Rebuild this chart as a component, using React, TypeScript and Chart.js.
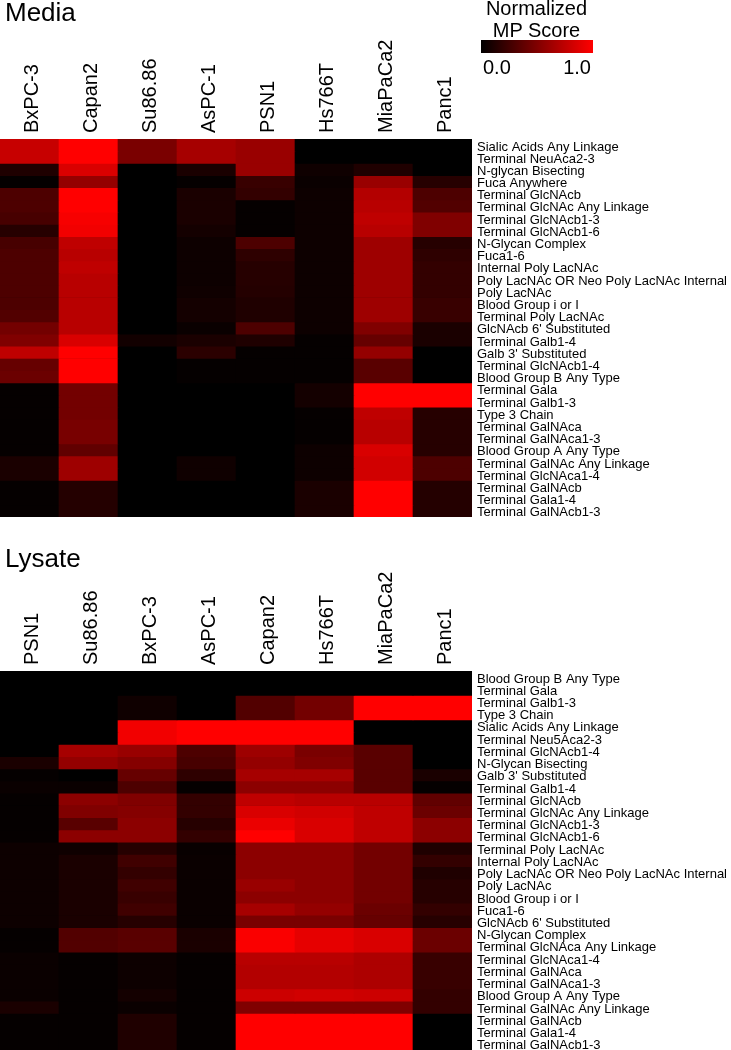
import React, { useEffect, useRef } from 'react';
import Chart from 'chart.js/auto';

const FONT = '"Liberation Sans", Arial, Helvetica, sans-serif';

// ---------- Media panel ----------
const mediaColumns = ['BxPC-3', 'Capan2', 'Su86.86', 'AsPC-1', 'PSN1', 'Hs766T', 'MiaPaCa2', 'Panc1'];
const mediaRows = [
  'Sialic Acids Any Linkage', 'Terminal NeuAca2-3', 'N-glycan Bisecting', 'Fuca Anywhere',
  'Terminal GlcNAcb', 'Terminal GlcNAc Any Linkage', 'Terminal GlcNAcb1-3', 'Terminal GlcNAcb1-6',
  'N-Glycan Complex', 'Fuca1-6', 'Internal Poly LacNAc', 'Poly LacNAc OR Neo Poly LacNAc Internal',
  'Poly LacNAc', 'Blood Group i or I', 'Terminal Poly LacNAc', "GlcNAcb 6' Substituted",
  'Terminal Galb1-4', "Galb 3' Substituted", 'Terminal GlcNAcb1-4', 'Blood Group B Any Type',
  'Terminal Gala', 'Terminal Galb1-3', 'Type 3 Chain', 'Terminal GalNAca', 'Terminal GalNAca1-3',
  'Blood Group A Any Type', 'Terminal GalNAc Any Linkage', 'Terminal GlcNAca1-4', 'Terminal GalNAcb',
  'Terminal Gala1-4', 'Terminal GalNAcb1-3',
];
const mediaBxPC3 = [0.78, 0.78, 0.12, 0.02, 0.3, 0.3, 0.28, 0.15, 0.28, 0.3, 0.3, 0.3, 0.3, 0.3, 0.32, 0.45, 0.5, 0.75, 0.4, 0.42, 0.02, 0.02, 0.02, 0.02, 0.02, 0.02, 0.1, 0.1, 0.02, 0.02, 0.02];
const mediaCapan2 = [1, 1, 0.85, 0.58, 1, 1, 0.97, 0.95, 0.75, 0.72, 0.75, 0.72, 0.72, 0.72, 0.72, 0.72, 0.85, 1, 1, 1, 0.45, 0.45, 0.45, 0.47, 0.47, 0.38, 0.62, 0.62, 0.14, 0.14, 0.14];
const mediaSu8686 = [0.48, 0.48, 0, 0, 0, 0, 0, 0, 0, 0, 0, 0, 0, 0, 0, 0, 0.07, 0, 0, 0, 0, 0, 0, 0, 0, 0, 0, 0, 0, 0, 0];
const mediaAsPC1 = [0.65, 0.65, 0.1, 0.02, 0.1, 0.1, 0.1, 0.08, 0.05, 0.05, 0.05, 0.05, 0.06, 0.08, 0.08, 0.04, 0.1, 0.17, 0.02, 0.02, 0, 0, 0, 0, 0, 0, 0.06, 0.06, 0, 0, 0];
const mediaPSN1 = [0.6, 0.6, 0.6, 0.22, 0.2, 0.02, 0.02, 0.02, 0.3, 0.18, 0.15, 0.15, 0.14, 0.12, 0.12, 0.3, 0.12, 0.02, 0.02, 0.02, 0, 0, 0, 0, 0, 0, 0, 0, 0, 0, 0];
const mediaHs766T = [0, 0, 0.06, 0.04, 0.05, 0.05, 0.05, 0.05, 0.05, 0.05, 0.05, 0.05, 0.05, 0.05, 0.05, 0.05, 0.02, 0.02, 0.02, 0.02, 0.08, 0.08, 0.02, 0.02, 0.02, 0.05, 0.05, 0.05, 0.1, 0.1, 0.1];
const mediaMiaPaCa2 = [0, 0, 0.12, 0.6, 0.7, 0.72, 0.75, 0.72, 0.62, 0.62, 0.62, 0.62, 0.62, 0.62, 0.62, 0.5, 0.4, 0.58, 0.35, 0.35, 1, 1, 0.75, 0.72, 0.72, 0.85, 0.82, 0.82, 1, 1, 1];
const mediaPanc1 = [0, 0, 0, 0.15, 0.3, 0.32, 0.5, 0.5, 0.15, 0.18, 0.2, 0.2, 0.2, 0.22, 0.22, 0.1, 0.1, 0, 0, 0, 1, 1, 0.15, 0.15, 0.15, 0.15, 0.3, 0.3, 0.14, 0.14, 0.14];

// ---------- Lysate panel ----------
const lysateColumns = ['PSN1', 'Su86.86', 'BxPC-3', 'AsPC-1', 'Capan2', 'Hs766T', 'MiaPaCa2', 'Panc1'];
const lysateRows = [
  'Blood Group B Any Type', 'Terminal Gala', 'Terminal Galb1-3', 'Type 3 Chain',
  'Sialic Acids Any Linkage', 'Terminal Neu5Aca2-3', 'Terminal GlcNAcb1-4', 'N-Glycan Bisecting',
  "Galb 3' Substituted", 'Terminal Galb1-4', 'Terminal GlcNAcb', 'Terminal GlcNAc Any Linkage',
  'Terminal GlcNAcb1-3', 'Terminal GlcNAcb1-6', 'Terminal Poly LacNAc', 'Internal Poly LacNAc',
  'Poly LacNAc OR Neo Poly LacNAc Internal', 'Poly LacNAc', 'Blood Group i or I', 'Fuca1-6',
  "GlcNAcb 6' Substituted", 'N-Glycan Complex', 'Terminal GlcNAca Any Linkage', 'Terminal GlcNAca1-4',
  'Terminal GalNAca', 'Terminal GalNAca1-3', 'Blood Group A Any Type', 'Terminal GalNAc Any Linkage',
  'Terminal GalNAcb', 'Terminal Gala1-4', 'Terminal GalNAcb1-3',
];
const lysatePSN1 = [0, 0, 0, 0, 0, 0, 0, 0.1, 0.02, 0.04, 0.02, 0.02, 0.02, 0.02, 0.05, 0.05, 0.05, 0.05, 0.05, 0.05, 0.05, 0.02, 0.02, 0.04, 0.04, 0.04, 0.04, 0.1, 0.02, 0.02, 0.02];
const lysateSu8686 = [0, 0, 0, 0, 0, 0, 0.65, 0.58, 0, 0.04, 0.55, 0.5, 0.35, 0.55, 0.06, 0.1, 0.1, 0.1, 0.1, 0.1, 0.1, 0.32, 0.32, 0.02, 0.02, 0.02, 0.02, 0.02, 0.02, 0.02, 0.02];
const lysateBxPC3 = [0, 0, 0.06, 0.06, 0.95, 0.95, 0.6, 0.52, 0.4, 0.3, 0.5, 0.52, 0.55, 0.55, 0.15, 0.25, 0.2, 0.25, 0.22, 0.25, 0.15, 0.35, 0.35, 0.05, 0.05, 0.05, 0.08, 0.04, 0.12, 0.12, 0.12];
const lysateAsPC1 = [0, 0, 0, 0, 1, 1, 0.3, 0.28, 0.18, 0.02, 0.2, 0.2, 0.15, 0.2, 0.03, 0.04, 0.04, 0.04, 0.04, 0.04, 0.04, 0.1, 0.1, 0.02, 0.02, 0.02, 0.02, 0.02, 0.02, 0.02, 0.02];
const lysateCapan2 = [0, 0, 0.32, 0.32, 1, 1, 0.62, 0.58, 0.65, 0.55, 0.75, 0.85, 0.92, 1, 0.55, 0.55, 0.55, 0.6, 0.55, 0.65, 0.48, 0.98, 0.98, 0.72, 0.7, 0.7, 0.8, 0.5, 1, 1, 1];
const lysateHs766T = [0, 0, 0.45, 0.45, 1, 1, 0.48, 0.5, 0.65, 0.55, 0.72, 0.82, 0.85, 0.85, 0.55, 0.55, 0.55, 0.55, 0.55, 0.58, 0.48, 0.9, 0.9, 0.72, 0.7, 0.7, 0.82, 0.5, 1, 1, 1];
const lysateMiaPaCa2 = [0, 0, 1, 1, 0, 0, 0.35, 0.35, 0.35, 0.35, 0.72, 0.75, 0.75, 0.75, 0.45, 0.45, 0.45, 0.45, 0.45, 0.42, 0.4, 0.85, 0.85, 0.68, 0.68, 0.68, 0.8, 0.5, 1, 1, 1];
const lysatePanc1 = [0, 0, 1, 1, 0, 0, 0, 0, 0.1, 0.02, 0.38, 0.42, 0.55, 0.55, 0.12, 0.2, 0.12, 0.15, 0.15, 0.2, 0.15, 0.42, 0.42, 0.22, 0.22, 0.22, 0.2, 0.2, 0, 0, 0];

const colorbarTicks = ['0.0', '1.0'];

const mediaSeries = [mediaBxPC3, mediaCapan2, mediaSu8686, mediaAsPC1, mediaPSN1, mediaHs766T, mediaMiaPaCa2, mediaPanc1];
const lysateSeries = [lysatePSN1, lysateSu8686, lysateBxPC3, lysateAsPC1, lysateCapan2, lysateHs766T, lysateMiaPaCa2, lysatePanc1];

function heatColor(v: number): string {
  const r = Math.round(255 * Math.max(0, Math.min(1, v)));
  return `rgb(${r},0,0)`;
}

const blackArea = {
  id: 'blackArea',
  beforeDatasetsDraw(chart: any) {
    const { ctx, chartArea: a } = chart;
    ctx.save();
    ctx.fillStyle = '#000';
    ctx.fillRect(a.left, a.top, a.right - a.left, a.bottom - a.top);
    ctx.restore();
  },
};

function buildConfig(columns: string[], rows: string[], series: number[][], axisHeight: number, labelWidth: number): any {
  return {
    type: 'bar',
    data: {
      labels: columns,
      datasets: rows.map((row, r) => ({
        label: row,
        data: columns.map(() => [r, r + 1]),
        backgroundColor: series.map((s) => heatColor(s[r])),
        borderWidth: 0,
        grouped: false,
        barPercentage: 1,
        categoryPercentage: 1,
      })),
    },
    options: {
      responsive: false,
      animation: false,
      layout: { padding: 0 },
      plugins: { legend: { display: false }, tooltip: { enabled: false }, title: { display: false } },
      scales: {
        x: {
          type: 'category',
          position: 'top',
          grid: { display: false, drawTicks: false },
          border: { display: false },
          ticks: {
            color: '#000',
            font: { family: FONT, size: 20 },
            minRotation: 90,
            maxRotation: 90,
            autoSkip: false,
            padding: 6,
            labelOffset: 27,
          },
          afterFit: (s: any) => {
            s.height = axisHeight;
            s.paddingLeft = 0;
            s.paddingRight = 0;
          },
        },
        y: {
          type: 'linear',
          position: 'right',
          min: 0,
          max: rows.length,
          reverse: true,
          grid: { display: false, drawTicks: false },
          border: { display: false },
          afterBuildTicks: (s: any) => { s.ticks = rows.map((_, i) => ({ value: i + 0.65 })); },
          ticks: {
            color: '#000',
            font: { family: FONT, size: 13 },
            autoSkip: false,
            padding: 5,
            callback: (_v: any, i: number) => rows[i],
          },
          afterFit: (s: any) => {
            s.width = labelWidth;
            s.paddingTop = 0;
            s.paddingBottom = 0;
          },
        },
      },
    },
    plugins: [blackArea],
  };
}

function Heatmap(props: { columns: string[]; rows: string[]; series: number[][]; axisHeight: number; top: number; height: number }) {
  const ref = useRef<HTMLCanvasElement | null>(null);
  useEffect(() => {
    if (!ref.current) return;
    const chart = new Chart(ref.current, buildConfig(props.columns, props.rows, props.series, props.axisHeight, 259));
    return () => chart.destroy();
  }, []);
  return (
    <canvas
      ref={ref}
      width={731}
      height={props.height}
      style={{ position: 'absolute', left: 0, top: props.top, width: 731, height: props.height }}
    />
  );
}

const textBase: React.CSSProperties = { position: 'absolute', fontFamily: FONT, color: '#000', whiteSpace: 'nowrap' };

export default function App() {
  return (
    <div style={{ position: 'absolute', left: 0, top: 0, width: 731, height: 1050, overflow: 'hidden', background: '#fff' }}>
      <Heatmap columns={mediaColumns} rows={mediaRows} series={mediaSeries} axisHeight={139} top={0} height={517} />
      <Heatmap columns={lysateColumns} rows={lysateRows} series={lysateSeries} axisHeight={111} top={560} height={490} />
      <div style={{ ...textBase, left: 5, top: -1, fontSize: 26, lineHeight: '26px' }}>Media</div>
      <div style={{ ...textBase, left: 5, top: 545, fontSize: 26, lineHeight: '26px' }}>Lysate</div>
      <div style={{ ...textBase, left: 480, top: -2, width: 113, textAlign: 'center', fontSize: 20, lineHeight: '20px' }}>Normalized</div>
      <div style={{ ...textBase, left: 480, top: 20, width: 113, textAlign: 'center', fontSize: 20, lineHeight: '20px' }}>MP Score</div>
      <div style={{ position: 'absolute', left: 481, top: 40, width: 112, height: 13, background: 'linear-gradient(to right, rgb(0,0,0), rgb(255,0,0))' }} />
      <div style={{ ...textBase, left: 483, top: 57, fontSize: 20, lineHeight: '20px' }}>{colorbarTicks[0]}</div>
      <div style={{ ...textBase, left: 540, top: 57, width: 51, textAlign: 'right', fontSize: 20, lineHeight: '20px' }}>{colorbarTicks[1]}</div>
    </div>
  );
}
